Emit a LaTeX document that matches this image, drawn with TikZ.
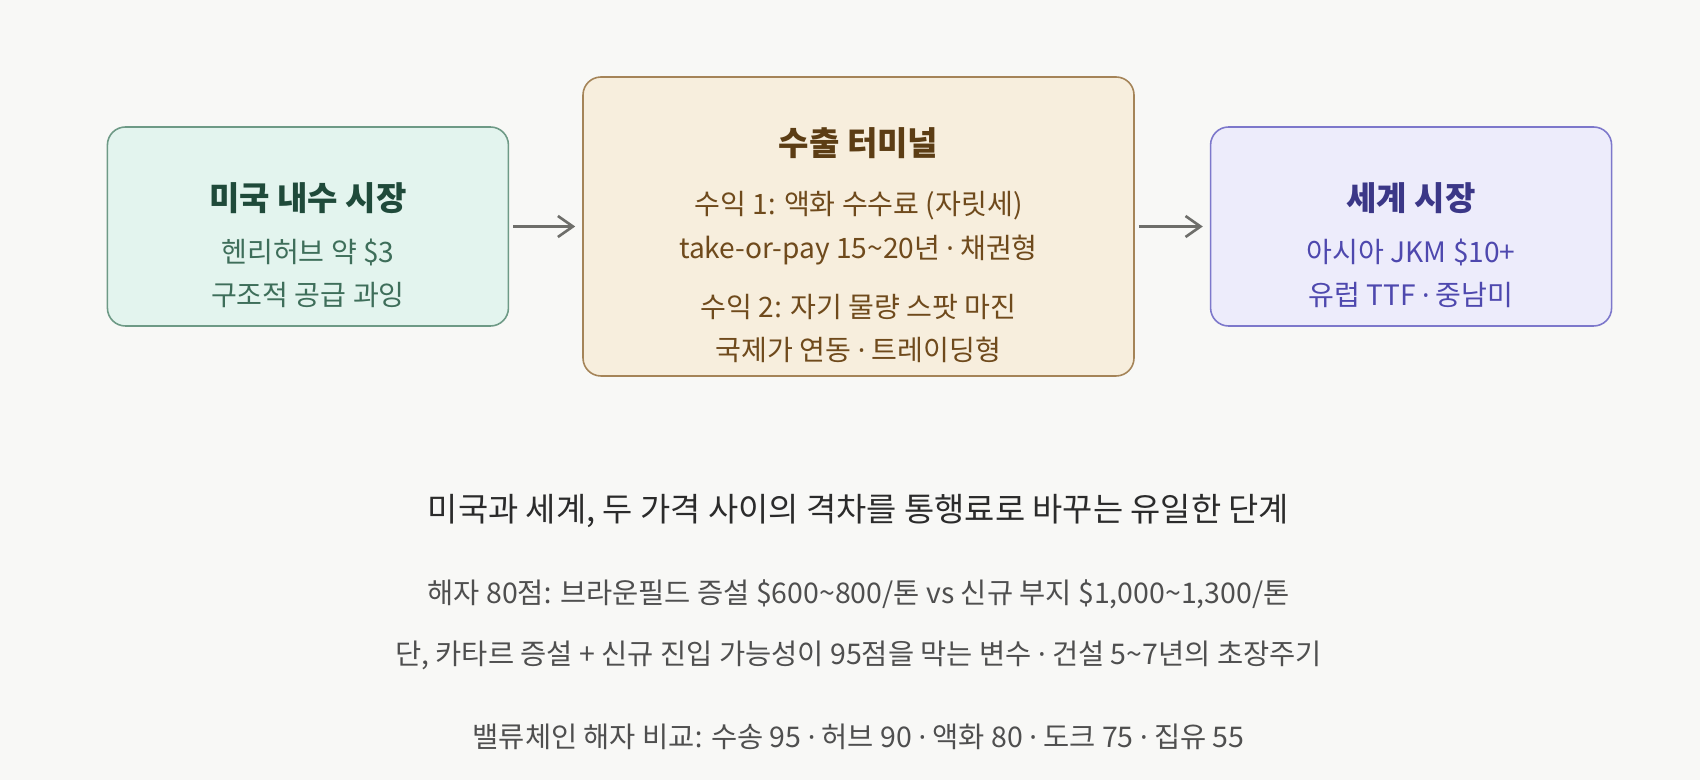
\documentclass[tikz,border=0pt]{standalone}
\usepackage{fontspec}
\setmainfont{Noto Sans CJK KR}
\newfontfamily\dotfont{Noto Sans}
\usepackage{tikz}
\usetikzlibrary{arrows.meta, positioning}
\usepackage{xcolor}
\definecolor{bgPaper}{HTML}{F8F8F6}
\definecolor{usFill}{HTML}{E3F4EE}
\definecolor{usLine}{HTML}{6E9A86}
\definecolor{usTitle}{HTML}{1F4A3A}
\definecolor{usText}{HTML}{3E6E5A}
\definecolor{termFill}{HTML}{F7EEDD}
\definecolor{termLine}{HTML}{A58458}
\definecolor{termTitle}{HTML}{5C3D14}
\definecolor{termText}{HTML}{6F4A1C}
\definecolor{worldFill}{HTML}{EDECFB}
\definecolor{worldLine}{HTML}{7D78CB}
\definecolor{worldTitle}{HTML}{3B3787}
\definecolor{worldText}{HTML}{4E48AE}
\definecolor{arrowGray}{HTML}{6E6E6A}
\definecolor{noteDark}{HTML}{2B2B2B}
\definecolor{noteGray}{HTML}{4F4F4F}
\newcommand{\cardhead}[2]{\textcolor{#1}{\fontsize{18.8}{22}\selectfont\bfseries #2}}
\newcommand{\middot}{{\dotfont ·}}
\newcommand{\kcolon}{{\dotfont :}}

\begin{document}
\begin{tikzpicture}[
    node distance=1.46cm,
    card/.style={rectangle, draw, rounded corners=0.36cm, line width=0.9pt, minimum height=3.98cm},
    cardtext/.style={anchor=base, align=center, inner sep=0pt, font=\fontsize{16}{24.6}\selectfont},
    arrow/.style={-{Straight Barb[length=0.3cm, width=0.42cm]}, line width=1.5pt, draw=arrowGray, shorten <=0.08cm, shorten >=0.14cm},
    note/.style={anchor=base, inner sep=0pt, font=\fontsize{16.2}{20}\selectfont, text=noteGray},
]
    \fill[bgPaper] (0,0) rectangle (34,-15.6);
    \useasboundingbox (0,0) rectangle (34,-15.6);

    \node[card, fill=termFill, draw=termLine, minimum width=11.02cm, minimum height=5.98cm] (terminal) at (17.17,-4.53) {};
    \node[card, fill=usFill, draw=usLine, minimum width=8.02cm, left=of terminal] (domestic) {};
    \node[card, fill=worldFill, draw=worldLine, minimum width=8.02cm, right=1.5cm of terminal] (world) {};

    % the base of a many-line node is its last line
    \node[cardtext, text=usText] (domestictext) at ([yshift=-1.59cm]domestic.center) {\cardhead{usTitle}{미국 내수 시장}\\[5.4pt]헨리허브 약 \$3\\구조적 공급 과잉};
    \node[cardtext, text=termText] (terminaltext) at ([yshift=-2.69cm]terminal.center) {\cardhead{termTitle}{수출 터미널}\\[9.4pt]수익 1\kcolon{} 액화 수수료 (자릿세)\\take-or-pay 15\textasciitilde20년 \middot{} 채권형\\[9.4pt]수익 2\kcolon{} 자기 물량 스팟 마진\\국제가 연동 \middot{} 트레이딩형};
    \node[cardtext, text=worldText] (worldtext) at ([yshift=-1.59cm]world.center) {\cardhead{worldTitle}{세계 시장}\\[5.4pt]아시아 JKM \$10+\\유럽 TTF \middot{} 중남미};

    \draw[arrow] (domestic) -- (terminal);
    \draw[arrow] (terminal) -- (world);

    \node[note, text=noteDark, font=\fontsize{18.7}{22}\selectfont] (gaptitle) at (17.17,-10.44) {미국과 세계, 두 가격 사이의 격차를 통행료로 바꾸는 유일한 단계};
    \node[note] (moatline) at (17.17,-12.08) {해자 80점\kcolon{} 브라운필드 증설 \$600\textasciitilde800/톤 vs 신규 부지 \$1,000\textasciitilde1,300/톤};
    \node[note] (riskline) at (17.17,-13.29) {단, 카타르 증설 + 신규 진입 가능성이 95점을 막는 변수 \middot{} 건설 5\textasciitilde7년의 초장주기};
    \node[note] (chainline) at (17.17,-14.95) {밸류체인 해자 비교\kcolon{} 수송 95 \middot{} 허브 90 \middot{} 액화 80 \middot{} 도크 75 \middot{} 집유 55};
\end{tikzpicture}
\end{document}
